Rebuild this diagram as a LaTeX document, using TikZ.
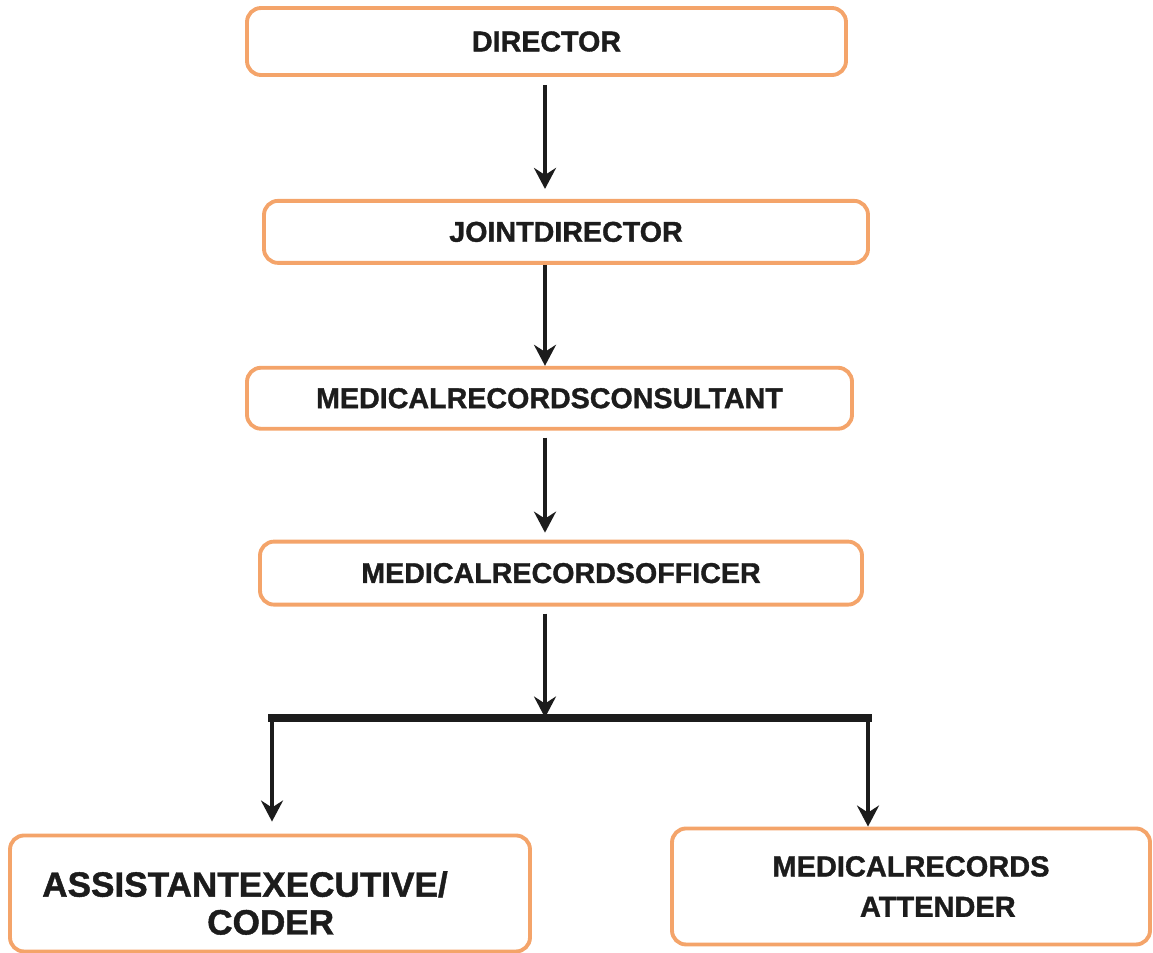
\documentclass[tikz,border=0pt]{standalone}
\usepackage{fontspec}
\setmainfont{Liberation Sans}[BoldFeatures={FakeBold=1.2}]
\usepackage{tikz}
\usetikzlibrary{arrows.meta,positioning}
\definecolor{boxorange}{RGB}{244,164,106}
\definecolor{inkblack}{RGB}{28,28,28}

\begin{document}
\begin{tikzpicture}[post/.style={rectangle, rounded corners=0.28cm, draw=boxorange, line width=2.2pt, fill=white, text=inkblack, inner sep=0pt, font=\fontsize{16.3}{23}\selectfont\bfseries},
arr/.style={draw=inkblack, line width=2.4pt, -{Stealth[length=0.42cm,width=0.44cm,inset=0.14cm]}}]

\useasboundingbox (0,0) rectangle (23.06,-19.04);

% chain of posts down the middle
\node[post, minimum width=11.98cm, minimum height=1.34cm](director) at (10.93,-0.83){DIRECTOR};
\node[post, below=2.44cm of director, xshift=0.39cm, minimum width=12.08cm, minimum height=1.24cm](joint){JOINTDIRECTOR};
\node[post, below=2.02cm of joint, xshift=-0.33cm, minimum width=12.1cm, minimum height=1.22cm](consult){MEDICALRECORDSCONSULTANT};
\node[post, below=2.18cm of consult, xshift=0.23cm, minimum width=12.04cm, minimum height=1.26cm](officer){MEDICALRECORDSOFFICER};

\coordinate (spine) at (10.9,0);

\draw[arr, shorten <=0.16cm, shorten >=0.2cm] (director.south -| spine) -- (joint.north -| spine);
\draw[arr] (joint.south -| spine) -- (consult.north -| spine);
\draw[arr, shorten <=0.14cm, shorten >=0.14cm] (consult.south -| spine) -- (officer.north -| spine);

% split into the two lower posts
\path (officer.south -| spine) ++(0,-2.22) coordinate (split);
\coordinate[left=5.46cm of split](lft);
\coordinate[right=6.46cm of split](rgt);

\draw[arr, shorten <=0.14cm] (officer.south -| spine) -- (split);
\draw[inkblack, line width=4.5pt, line cap=rect] (lft) -- (rgt);

\node[post, below=2.32cm of lft, xshift=-0.04cm, minimum width=10.4cm, minimum height=2.32cm, align=left, text height=1.84cm, text depth=0.2cm, font=\fontsize{20}{21.5}\selectfont\bfseries](coder){ASSISTANTEXECUTIVE/\hspace*{1cm}\\\hspace*{3.3cm}CODER};
\node[post, below=2.18cm of rgt, xshift=0.86cm, minimum width=9.56cm, minimum height=2.32cm, align=left, font=\fontsize{16.5}{23}\selectfont\bfseries](attender){MEDICALRECORDS\\\hspace*{1.75cm}ATTENDER};

\draw[arr, shorten >=0.24cm] (lft) -- (lft |- coder.north);
\draw[arr] (rgt) -- (rgt |- attender.north);

\end{tikzpicture}
\end{document}
